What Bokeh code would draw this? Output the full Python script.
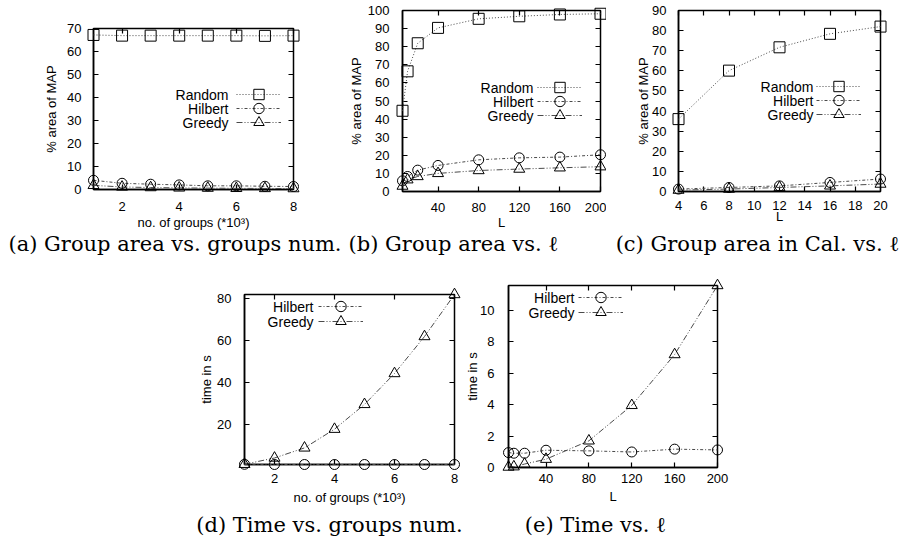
from bokeh.plotting import figure
from bokeh.layouts import row, column, Spacer
from bokeh.models import Range1d, LinearAxis, SingleIntervalTicker, Legend, LegendItem, Label
from bokeh.embed import file_html
from bokeh.resources import INLINE

# ---------------- data ----------------
groups_k = [1, 2, 3, 4, 5, 6, 7, 8]            # no. of groups (*10^3)
L_vals = [5, 10, 20, 40, 80, 120, 160, 200]    # L
L_cal = [4, 8, 12, 16, 20]                      # L (Cal.)

a_random = [67.2, 66.9, 66.9, 66.9, 66.9, 66.9, 66.8, 66.9]
a_hilbert = [4.0, 2.7, 2.3, 2.0, 1.6, 1.6, 1.4, 1.3]
a_greedy = [1.8, 1.1, 0.85, 0.7, 0.6, 0.5, 0.45, 0.4]

b_random = [44.6, 66.4, 81.9, 90.4, 95.4, 96.8, 97.8, 98.2]
b_hilbert = [5.9, 8.3, 11.8, 14.4, 17.5, 18.6, 19.0, 20.3]
b_greedy = [3.0, 6.5, 8.3, 10.0, 11.6, 12.4, 13.1, 13.7]

c_random = [36.0, 60.1, 71.7, 78.4, 82.0]
c_hilbert = [1.2, 2.0, 2.8, 4.5, 6.2]
c_greedy = [0.7, 1.2, 2.0, 2.8, 3.7]

d_hilbert = [1.0, 0.9, 0.9, 0.9, 0.9, 0.9, 0.9, 0.9]
d_greedy = [1.0, 4.0, 8.8, 17.7, 29.5, 44.2, 61.8, 81.8]

e_hilbert = [0.95, 0.91, 0.91, 1.10, 1.06, 0.99, 1.17, 1.12]
e_greedy = [0.03, 0.05, 0.22, 0.53, 1.70, 3.96, 7.20, 11.6]

captions_top = ["(a) Group area vs. groups num.", "(b) Group area vs. \u2113",
                "(c) Group area in Cal. vs. \u2113"]
captions_bottom = ["(d) Time vs. groups num.", "(e) Time vs. \u2113"]

# ---------------- styles ----------------
SANS = "Liberation Sans"
SERIF = "DejaVu Serif"
LINE_COL = "#4a4a4a"
STYLES = {
    "Random": dict(dash="1 2", marker="square", size=11),
    "Hilbert": dict(dash="3 2 1 2", marker="circle", size=10),
    "Greedy": dict(dash="6 2 1 2 1 2", marker="triangle", size=11),
}
LEG_GLYPH_H = 26   # tall glyph box so the legend markers match the plot markers


def make_panel(width, height, borders, x, series, x_range, y_range, x_int, y_int,
               xlabel, ylabel, xl_stand, xa_stand, yl_stand, ya_stand, leg):
    l, r, t, b = borders
    p = figure(width=width, height=height, min_border_left=l, min_border_right=r,
               min_border_top=t, min_border_bottom=b, x_range=x_range, y_range=y_range,
               toolbar_location=None, output_backend="svg", title=None)
    p.frame_align = False
    p.grid.visible = False
    p.outline_line_color = "black"
    p.outline_line_width = 1.5
    p.background_fill_color = "white"
    p.border_fill_color = None

    p.xaxis.ticker = SingleIntervalTicker(interval=x_int)
    p.yaxis.ticker = SingleIntervalTicker(interval=y_int)
    p.xaxis.axis_label = xlabel
    p.yaxis.axis_label = ylabel
    p.xaxis.major_label_standoff = xl_stand
    p.xaxis.axis_label_standoff = xa_stand
    p.yaxis.major_label_standoff = yl_stand
    p.yaxis.axis_label_standoff = ya_stand
    for ax in p.axis:
        ax.major_tick_in = 5
        ax.major_tick_out = 0
        ax.minor_tick_line_color = None
        ax.axis_line_width = 1.5
        ax.major_tick_line_width = 1.2
        ax.major_label_text_font = SANS
        ax.major_label_text_font_size = "13px"
        ax.major_label_text_color = "black"
        ax.axis_label_text_font = SANS
        ax.axis_label_text_font_size = "13px"
        ax.axis_label_text_font_style = "normal"
        ax.axis_label_text_color = "black"

    # mirrored tick marks (gnuplot style), without labels
    for loc, iv in (("above", x_int), ("right", y_int)):
        m = LinearAxis(ticker=SingleIntervalTicker(interval=iv),
                       major_label_text_font_size="0px", major_label_text_color=None,
                       major_label_standoff=0,
                       axis_line_color=None, major_tick_in=5, major_tick_out=0,
                       major_tick_line_width=1.2, minor_tick_line_color=None)
        p.add_layout(m, loc)

    gx, tx, top_c, pitch = leg
    gh = LEG_GLYPH_H
    for i, (name, ys) in enumerate(series):
        st = STYLES[name]
        lr = p.line(x, ys, line_color=LINE_COL, line_width=1, line_dash=st["dash"],
                    level="overlay")
        mr = p.scatter(x, ys, marker=st["marker"], size=st["size"], line_color="black",
                       line_width=1, fill_alpha=0, level="overlay")
        yc = top_c - i * pitch
        # one single-item legend per series: sample line + marker (gnuplot key style)
        lg = Legend(items=[LegendItem(label=" ", renderers=[lr, mr])],
                    location=(gx, yc - gh / 2), orientation="vertical",
                    glyph_width=45, glyph_height=gh, label_height=gh, label_width=0,
                    label_standoff=0, spacing=0, padding=0, margin=0,
                    border_line_color=None, background_fill_alpha=0,
                    label_text_font_size="1px", label_text_color=None)
        p.add_layout(lg, "center")
        # key text to the left of the sample, right aligned
        p.add_layout(Label(x=tx, y=yc, x_units="screen", y_units="screen",
                           text=name, text_align="right", text_baseline="middle",
                           text_font=SANS, text_font_size="14px", text_color="black"))
    return p


pa = make_panel(292, 230, (85, 7, 26, 40), groups_k,
                [("Random", a_random), ("Hilbert", a_hilbert), ("Greedy", a_greedy)],
                Range1d(min(groups_k), max(groups_k)), Range1d(0, 70), 2, 10,
                "no. of groups (*10\u00b3)", "% area of MAP", 8, 1, 8, 5,
                (143, 135, 95, 14))
pb = make_panel(306, 230, (102, 6, 8, 41), L_vals,
                [("Random", b_random), ("Hilbert", b_hilbert), ("Greedy", b_greedy)],
                Range1d(min(L_vals), max(L_vals)), Range1d(0, 100), 40, 10,
                "L", "% area of MAP", 7, 0, 9, 1,
                (135, 131, 104, 14))
pc = make_panel(298, 230, (72, 24, 8, 41), L_cal,
                [("Random", c_random), ("Hilbert", c_hilbert), ("Greedy", c_greedy)],
                Range1d(min(L_cal), max(L_cal)), Range1d(0, 90), 2, 10,
                "L", "% area of MAP", 5, -4, 8, -2,
                (138, 135, 105, 14))
pd = make_panel(266, 252, (42, 8, 39, 42), groups_k,
                [("Hilbert", d_hilbert), ("Greedy", d_greedy)],
                Range1d(min(groups_k), max(groups_k)),
                Range1d(min(d_hilbert), max(d_greedy)), 2, 20,
                "no. of groups (*10\u00b3)", "time in s", 5, 4, 9, 0,
                (74, 69, 158, 15))
pe = make_panel(267, 252, (43, 12, 30, 40), L_vals,
                [("Hilbert", e_hilbert), ("Greedy", e_greedy)],
                Range1d(min(L_vals), max(L_vals)), Range1d(0, max(e_greedy)), 40, 2,
                "L", "time in s", 2, 3, 10, -3,
                (70, 66, 170, 15))


def caption_strip(width, height, texts, xs, aligns, yc):
    c = figure(width=width, height=height, x_axis_location=None, y_axis_location=None,
               min_border=0, toolbar_location=None, output_backend="svg", title=None,
               x_range=Range1d(0, 1), y_range=Range1d(0, 1))
    c.frame_align = False
    c.grid.visible = False
    c.outline_line_color = None
    c.border_fill_color = None
    c.background_fill_color = None
    for t, x, al in zip(texts, xs, aligns):
        c.add_layout(Label(x=x, y=yc, x_units="screen", y_units="screen", text=t,
                           text_align=al, text_baseline="middle", text_font=SERIF,
                           text_font_size="21px", text_color="black"))
    return c


cap1 = caption_strip(900, 23, captions_top, [0, 445, 749], ["left", "center", "center"], 12)
cap2 = caption_strip(900, 30, captions_bottom, [321, 587], ["center", "center"], 13)

inner = column(row(pa, pb, pc), cap1, row(Spacer(width=188, height=252), pd, pe), cap2)
layout = row(Spacer(width=8, height=537), column(Spacer(width=900, height=2), inner))

open("out.html", "w").write(file_html(layout, INLINE))
